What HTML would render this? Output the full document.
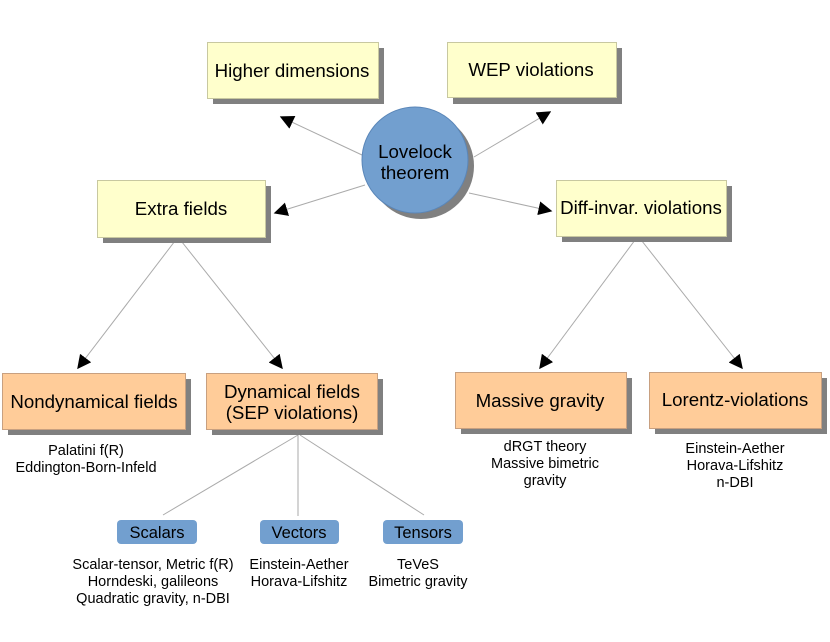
<!DOCTYPE html>
<html><head><meta charset="utf-8"><style>
html,body{margin:0;padding:0;background:#fff;}
svg{display:block;font-family:"Liberation Sans",sans-serif;}
</style></head><body>
<svg width="830" height="642" viewBox="0 0 830 642" xmlns="http://www.w3.org/2000/svg">
<defs>
<marker id="a" viewBox="0 0 10 10" refX="9" refY="5" markerWidth="14" markerHeight="14" markerUnits="userSpaceOnUse" orient="auto">
<path d="M0,0 L10,5 L0,10 z" fill="#000"/></marker>
</defs>
<g stroke="#aaa" stroke-width="1" fill="none">
<line x1="362" y1="155" x2="281" y2="117" marker-end="url(#a)"/>
<line x1="474" y1="157" x2="550" y2="112" marker-end="url(#a)"/>
<line x1="365" y1="185" x2="275" y2="213" marker-end="url(#a)"/>
<line x1="469" y1="193" x2="551" y2="211" marker-end="url(#a)"/>
<line x1="178" y1="237" x2="78" y2="368" marker-end="url(#a)"/>
<line x1="178" y1="237" x2="282" y2="368" marker-end="url(#a)"/>
<line x1="638" y1="236" x2="540" y2="368" marker-end="url(#a)"/>
<line x1="638" y1="236" x2="742" y2="368" marker-end="url(#a)"/>
<line x1="298" y1="435" x2="163" y2="515"/>
<line x1="298" y1="435" x2="298" y2="516"/>
<line x1="300" y1="435" x2="424" y2="515"/>
</g>
<g fill="#808080">
<rect x="213" y="48" width="171" height="56"/>
<rect x="453" y="48" width="169" height="56"/>
<rect x="103" y="186" width="168" height="57"/>
<rect x="562" y="186" width="170" height="56"/>
<rect x="8" y="379" width="183" height="56"/>
<rect x="212" y="379" width="171" height="56"/>
<rect x="461" y="378" width="171" height="56"/>
<rect x="655" y="378" width="172" height="56"/>
<circle cx="421" cy="166" r="53"/>
</g>
<g fill="#ffffcc" stroke="#c8c8a0">
<rect x="207.5" y="42.5" width="171" height="56"/>
<rect x="447.5" y="42.5" width="169" height="55"/>
<rect x="97.5" y="180.5" width="168" height="57"/>
<rect x="556.5" y="180.5" width="170" height="56"/>
</g>
<g fill="#ffcc99" stroke="#c8a080">
<rect x="2.5" y="373.5" width="183" height="56"/>
<rect x="206.5" y="373.5" width="171" height="56"/>
<rect x="455.5" y="372.5" width="171" height="56"/>
<rect x="649.5" y="372.5" width="172" height="56"/>
</g>
<circle cx="415" cy="160" r="53" fill="#729fcf" stroke="#5a86b8"/>
<g fill="#729fcf">
<rect x="117" y="520" width="80" height="24" rx="4"/>
<rect x="260" y="520" width="79" height="24" rx="4"/>
<rect x="383" y="520" width="80" height="24" rx="4"/>
</g>
<g font-size="18.7" text-anchor="middle" fill="#000">
<text x="292" y="77">Higher dimensions</text>
<text x="531" y="76">WEP violations</text>
<text x="181" y="215">Extra fields</text>
<text x="641" y="214">Diff-invar. violations</text>
<text x="94" y="408">Nondynamical fields</text>
<text x="292" y="398">Dynamical fields</text>
<text x="292" y="419">(SEP violations)</text>
<text x="540" y="407">Massive gravity</text>
<text x="735" y="406">Lorentz-violations</text>
<text x="415" y="158">Lovelock</text>
<text x="415" y="179">theorem</text>
<text x="157" y="538" font-size="16.5">Scalars</text>
<text x="299" y="538" font-size="16.5">Vectors</text>
<text x="423" y="538" font-size="16.5">Tensors</text>
</g>
<g font-size="14.5" text-anchor="middle" fill="#000">
<text x="86" y="455">Palatini f(R)</text>
<text x="86" y="472">Eddington-Born-Infeld</text>
<text x="153" y="569">Scalar-tensor, Metric f(R)</text>
<text x="153" y="586">Horndeski, galileons</text>
<text x="153" y="603">Quadratic gravity, n-DBI</text>
<text x="299" y="569">Einstein-Aether</text>
<text x="299" y="586">Horava-Lifshitz</text>
<text x="418" y="569">TeVeS</text>
<text x="418" y="586">Bimetric gravity</text>
<text x="545" y="451">dRGT theory</text>
<text x="545" y="468">Massive bimetric</text>
<text x="545" y="485">gravity</text>
<text x="735" y="453">Einstein-Aether</text>
<text x="735" y="470">Horava-Lifshitz</text>
<text x="735" y="487">n-DBI</text>
</g>
</svg>
</body></html>
